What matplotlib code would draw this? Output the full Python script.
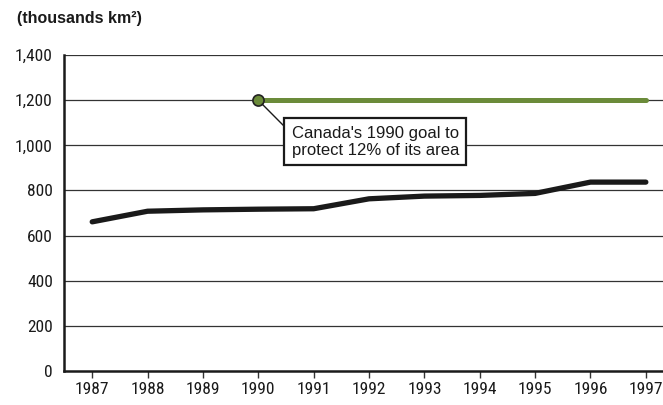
import matplotlib
matplotlib.use("Agg")
import matplotlib.pyplot as plt
from matplotlib import font_manager

# protected area, thousands of km2
years = [1987, 1988, 1989, 1990, 1991, 1992, 1993, 1994, 1995, 1996, 1997]
protected = [661, 708, 714, 717, 719, 763, 775, 778, 787, 837, 837]

goal_years = [1990, 1997]
goal_value = [1200, 1200]

yticks = [0, 200, 400, 600, 800, 1000, 1200, 1400]
ytick_labels = ["0", "200", "400", "600", "800", "1,000", "1,200", "1,400"]


def pick_narrow():
    # first condensed face we can find, else a condensed DejaVu stretch
    for name in ["Liberation Sans Narrow", "Roboto Condensed", "Open Sans Condensed",
                 "DejaVu Sans Condensed", "Noto Sans Condensed"]:
        try:
            font_manager.findfont(font_manager.FontProperties(family=name),
                                  fallback_to_default=False)
            return font_manager.FontProperties(family=name)
        except ValueError:
            pass
    return font_manager.FontProperties(family="DejaVu Sans", stretch="condensed")


narrow = pick_narrow()
green = "#6b8b3a"

fig = plt.figure(figsize=(6.63, 4.05), dpi=100)
ax = fig.add_axes([0.0965, 0.084, 0.9035, 0.78])

ax.set_xlim(1986.49, 1997.31)
ax.set_ylim(0, 1400)

# horizontal grid
for v in yticks[1:]:
    ax.axhline(v, color="#333333", lw=0.9, zorder=1)

ax.plot(years, protected, color="#1a1a1a", lw=3.8, solid_capstyle="round",
        solid_joinstyle="round", zorder=3)
ax.plot(goal_years, goal_value, color=green, lw=3.6, solid_capstyle="round", zorder=3)
ax.plot(goal_years[0], goal_value[0], "o", ms=8, mfc=green, mec="#222222", mew=1.2, zorder=5)

ax.annotate("Canada's 1990 goal to\nprotect 12% of its area",
            xy=(goal_years[0], goal_value[0]), xytext=(1990.6, 1016),
            ha="left", va="center", fontsize=12, family="Liberation Sans",
            linespacing=1.2, zorder=6, color="#1a1a1a",
            bbox=dict(boxstyle="square,pad=0.45", fc="white", ec="#1a1a1a", lw=1.6),
            arrowprops=dict(arrowstyle="-", color="#1a1a1a", lw=1.0,
                            shrinkA=0, shrinkB=4, relpos=(0, 0.75)))

tick_font = narrow.copy()
tick_font.set_size(12.5)

ax.set_xticks(years)
ax.set_xticklabels([str(y) for y in years], fontproperties=tick_font, color="#1a1a1a")
ax.set_yticks(yticks)
ax.set_yticklabels(ytick_labels, fontproperties=tick_font, color="#1a1a1a")
ax.tick_params(axis="y", length=0, pad=8)
ax.tick_params(axis="x", length=5, width=1, color="#333333", pad=3)

for side in ("top", "right"):
    ax.spines[side].set_visible(False)
for side in ("left", "bottom"):
    ax.spines[side].set_linewidth(1.8)
    ax.spines[side].set_color("#1a1a1a")
    ax.spines[side].set_zorder(4)

fig.text(0.026, 0.955, "(thousands km²)", fontsize=11.5, fontweight="bold",
         family="Liberation Sans", va="center", ha="left", color="#1a1a1a")

fig.savefig("out.png", dpi=100)
